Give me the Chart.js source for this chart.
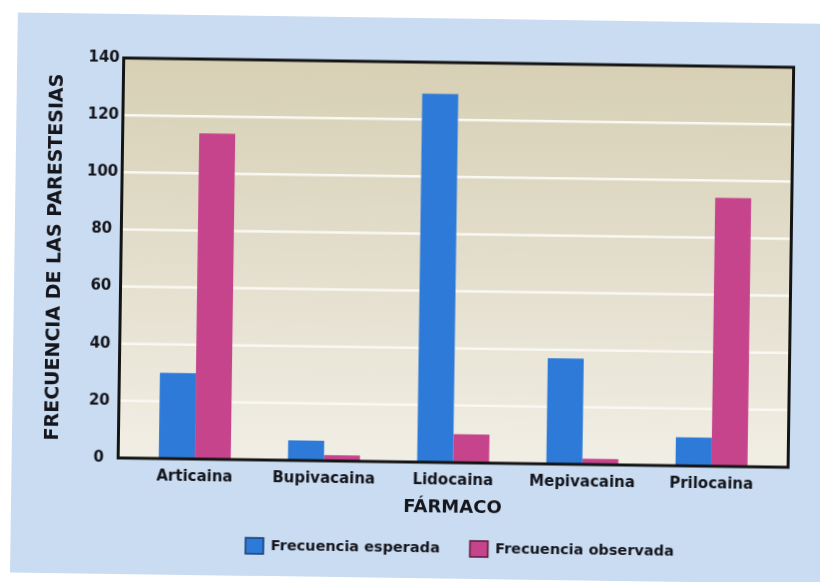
<!DOCTYPE html>
<html>
<head>
<meta charset="utf-8">
<script src="https://cdn.jsdelivr.net/npm/chart.js@4/dist/chart.umd.min.js"></script>
<style>
  html, body { margin: 0; padding: 0; background: #ffffff; width: 820px; height: 582px; overflow: hidden; }
  #sheet { position: absolute; left: 0; top: 0; width: 820px; height: 582px;
           transform: rotate(0.8deg); transform-origin: 410px 291px; }
  #panel { position: absolute; left: 14px; top: 18px; width: 860px; height: 560px; background: #c9dcf1; }
  #wrap  { position: absolute; left: 0; top: 0; width: 820px; height: 582px; }
</style>
</head>
<body>
<div id="sheet">
  <div id="panel"></div>
  <div id="wrap"><canvas id="chart" width="820" height="582"></canvas></div>
</div>
<script>
// Fármacos y frecuencias de parestesias
const categories = ['Articaina', 'Bupivacaina', 'Lidocaina', 'Mepivacaina', 'Prilocaina'];
const esperada   = [30, 7, 129, 37, 10];
const observada  = [114, 2, 10, 2, 94];
const yTicks     = [0, 20, 40, 60, 80, 100, 120, 140];
const seriesNames = ['Frecuencia esperada', 'Frecuencia observada'];

const INK = '#15151c';
const BLUE = '#2d7ad8';
const PINK = '#c6448c';
const BLUE_EDGE = '#1b3b70';
const PINK_EDGE = '#5c1a3c';

Chart.defaults.font.family = "'DejaVu Sans', sans-serif";
Chart.defaults.font.weight = 'bold';
Chart.defaults.color = INK;

// Plot panel: beige gradient, white horizontal rules and a black frame
// that extends a little beyond the category band on both sides.
const framePlugin = {
  id: 'framePanel',
  beforeDatasetsDraw(chart) {
    const { ctx, chartArea: a, scales: { y } } = chart;
    const L = a.left - 12, R = a.right + 12;
    ctx.save();
    const g = ctx.createLinearGradient(0, a.top, 0, a.bottom);
    g.addColorStop(0, '#d7d0b5');
    g.addColorStop(0.5, '#e3decc');
    g.addColorStop(1, '#f1eee5');
    ctx.fillStyle = g;
    ctx.fillRect(L, a.top, R - L, a.bottom - a.top);
    ctx.strokeStyle = '#f9f8f2';
    ctx.lineWidth = 2.5;
    y.ticks.forEach(t => {
      if (t.value <= y.min || t.value >= y.max) return;
      const py = y.getPixelForValue(t.value);
      ctx.beginPath();
      ctx.moveTo(L, py);
      ctx.lineTo(R, py);
      ctx.stroke();
    });
    ctx.restore();
  },
  afterDatasetsDraw(chart) {
    const { ctx, chartArea: a } = chart;
    ctx.save();
    ctx.strokeStyle = '#141414';
    ctx.lineWidth = 3;
    ctx.strokeRect(a.left - 12, a.top, a.right - a.left + 24, a.bottom - a.top);
    ctx.restore();
  }
};

// Legend row starts under "Bupivacaina" rather than being centred on the canvas.
const legendShift = {
  id: 'legendShift',
  afterLayout(chart) {
    const lg = chart.legend;
    if (!lg || !lg.lineWidths) return;
    const pad = lg.options.labels.padding;
    const cur = (lg.left + pad + lg.right - lg.lineWidths[0]) / 2;
    const dx = 249 - cur;
    lg.left += dx;
    lg.right += dx;
  }
};

new Chart(document.getElementById('chart'), {
  type: 'bar',
  data: {
    labels: categories,
    datasets: [
      { label: seriesNames[0], data: esperada,  backgroundColor: BLUE, borderWidth: 0 },
      { label: seriesNames[1], data: observada, backgroundColor: PINK, borderWidth: 0 }
    ]
  },
  options: {
    responsive: false,
    animation: false,
    events: [],
    categoryPercentage: 0.557,
    barPercentage: 1.0,
    layout: { padding: { left: 43.7, right: 41.5, top: 62, bottom: 16 } },
    scales: {
      x: {
        grid: { display: false, drawTicks: false, tickLength: 0 },
        border: { display: false },
        ticks: { padding: 9, autoSkip: false, maxRotation: 0, color: INK,
                 font: { size: 15, weight: 'bold' } },
        title: { display: true, text: 'FÁRMACO', color: INK,
                 font: { size: 18, weight: 'bold' }, padding: { top: 0, bottom: -8.3 } },
        afterFit(s) { s.height = 48; }
      },
      y: {
        min: 0, max: 140,
        grid: { display: false, drawTicks: false, tickLength: 0 },
        border: { display: false },
        afterBuildTicks(s) { s.ticks = yTicks.map(v => ({ value: v })); },
        ticks: { padding: 16, crossAlign: 'center', color: INK,
                 font: { size: 15, weight: 'bold' } },
        title: { display: true, text: 'FRECUENCIA DE LAS PARESTESIAS', color: INK,
                 font: { size: 19, weight: 'bold' }, padding: { top: 0, bottom: 0 } },
        afterFit(s) { s.width = 88.8; }
      }
    },
    plugins: {
      tooltip: { enabled: false },
      legend: {
        position: 'bottom',
        labels: {
          boxWidth: 18, boxHeight: 16, padding: 30, color: INK,
          font: { size: 14.5, weight: 'bold' },
          generateLabels(chart) {
            const items = Chart.defaults.plugins.legend.labels.generateLabels(chart);
            const edges = [BLUE_EDGE, PINK_EDGE];
            items.forEach((it, i) => { it.lineWidth = 1.5; it.strokeStyle = edges[i]; });
            return items;
          }
        }
      }
    }
  },
  plugins: [framePlugin, legendShift]
});
</script>
</body>
</html>
